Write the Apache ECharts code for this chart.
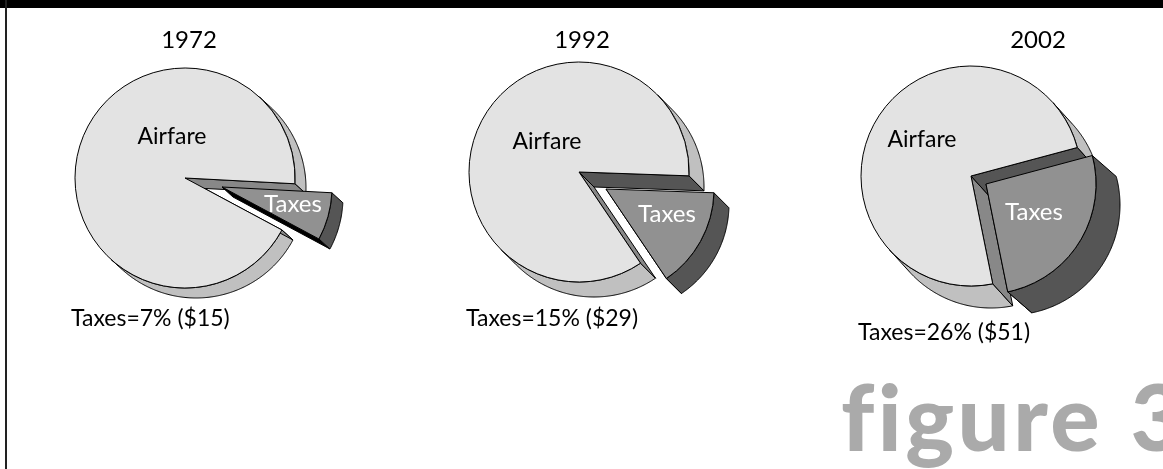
<!DOCTYPE html>
<html><head><meta charset="utf-8">
<style>html,body{margin:0;padding:0;background:#fff}#c{width:1163px;height:469px}</style>
<script src="https://cdn.jsdelivr.net/npm/echarts@6/dist/echarts.min.js"></script>
</head><body><div id="c"></div>
<script>
// ---- data ----
const years = ['1972', '1992', '2002'];
const taxesShare = [7, 15, 26];
const airfareShare = [93, 85, 74];
const taxesDollars = [15, 29, 51];
const sliceLabels = ['Airfare', 'Taxes'];
const figureLabel = 'figure 3';

// ---- layout ----
const FONT = 'Lato, "Open Sans", sans-serif';
const radius = 110;
const sliceRadius = [110, 108, 110];
const mainCenter = [[185, 178], [579, 172], [971, 176]];
const sliceCenter = [[222, 187], [606, 189], [986, 184]];
const mainDepth = [[11, 10], [15, 15], [20, 22]];
const sliceDepth = [[11, 10], [15, 15], [24, 21]];
const startScreenAngle = [3, 2, -15];       // degrees below the +x axis where the Taxes slice starts
const upperWallColor = ['#888888', '#555555', '#555555'];
const yearX = [189, 582, 1038], yearY = 40;
const airfarePos = [[172, 137], [547, 142], [922, 140]];
const taxesPos = [[293, 204], [667, 214], [1034, 212]];
const captionPos = [[71, 319], [466, 319], [858, 333]];

const C = {face: '#e3e3e3', shadow: '#c0c0c0', taxes: '#919191', wall: '#555555', strip: '#888888'};
const rad = d => d * Math.PI / 180;
const pt = (c, a, r, d = [0, 0]) => [c[0] + d[0] + r * Math.cos(rad(a)), c[1] + d[1] + r * Math.sin(rad(a))];
const add = (p, d) => [p[0] + d[0], p[1] + d[1]];

// the large heading is spaced wider and without the fi ligature
const nativeFillText = CanvasRenderingContext2D.prototype.fillText;
CanvasRenderingContext2D.prototype.fillText = function (t, x, y, m) {
  const big = t === figureLabel;
  if (big) { this.letterSpacing = '3.5px'; this.wordSpacing = '2px'; }
  nativeFillText.call(this, t, x, y, m);
  if (big) { this.letterSpacing = '0px'; this.wordSpacing = '0px'; }
};

function poly(points, fill) {
  return {type: 'polygon', shape: {points}, style: {fill, stroke: '#000', lineWidth: 1, lineJoin: 'round'}};
}
// side wall along an arc: only the part that faces the direction of the depth
function arcWalls(c, r, a0, a1, d, fill) {
  const phi = Math.atan2(d[1], d[0]) * 180 / Math.PI;
  const runs = []; let run = null;
  for (let a = a0; a <= a1 + 1e-6; a += Math.min(0.5, Math.max(a1 - a, 0.01))) {
    const facing = Math.cos(rad(a - phi)) > 0;
    if (facing) { (run = run || []).push(a); } else if (run) { runs.push(run); run = null; }
    if (a >= a1) break;
  }
  if (run) runs.push(run);
  return runs.map(q => poly(q.map(a => pt(c, a, r)).concat(q.slice().reverse().map(a => pt(c, a, r, d))), fill));
}
function edgeWall(c, r, a, d, fill) {
  const e = pt(c, a, r);
  return poly([c, e, add(e, d), add(c, d)], fill);
}
function customLayer(children, z) {
  return {type: 'custom', coordinateSystem: 'none', silent: true, z, animation: false, data: [[0]], renderItem: () => ({type: 'group', children})};
}

const series = [];
years.forEach((y, i) => {
  const a0 = startScreenAngle[i], a1 = a0 + taxesShare[i] * 3.6;
  const pieBase = {type: 'pie', startAngle: -a0, clockwise: true, silent: true, animation: false,
    label: {show: false}, labelLine: {show: false}, itemStyle: {borderColor: '#000', borderWidth: 1}};
  // main pie: depth, hole walls, face
  series.push(customLayer(
    arcWalls(mainCenter[i], radius, a1, a0 + 360, mainDepth[i], C.shadow).concat([
      edgeWall(mainCenter[i], radius, a1, mainDepth[i], C.strip),
      edgeWall(mainCenter[i], radius, a0, mainDepth[i], upperWallColor[i])
    ]), 1));
  series.push(Object.assign({}, pieBase, {name: y + ' Airfare', radius, center: mainCenter[i], z: 2, data: [
    {name: 'Taxes', value: taxesShare[i], itemStyle: {color: 'rgba(0,0,0,0)', borderWidth: 0}},
    {name: 'Airfare', value: airfareShare[i], itemStyle: {color: C.face}}
  ]}));
  // exploded slice: walls, face
  series.push(customLayer([
    edgeWall(sliceCenter[i], sliceRadius[i], a1, sliceDepth[i], '#000'),
    ...arcWalls(sliceCenter[i], sliceRadius[i], a0, a1, sliceDepth[i], C.wall)
  ], 3));
  series.push(Object.assign({}, pieBase, {name: y + ' Taxes', radius: sliceRadius[i], center: sliceCenter[i], z: 4, data: [
    {name: 'Taxes', value: taxesShare[i], itemStyle: {color: C.taxes}},
    {name: 'Airfare', value: airfareShare[i], itemStyle: {color: 'rgba(0,0,0,0)', borderWidth: 0}}
  ]}));
});

function text(str, x, y, size, fill, align = 'center', weight = 'normal') {
  return {type: 'text', x, y, z: 20, silent: true, style: {text: str, fill, fontFamily: FONT, fontSize: size, fontWeight: weight, textAlign: align, textVerticalAlign: 'middle'}};
}
const graphics = [
  {type: 'rect', z: 30, silent: true, shape: {x: 0, y: 0, width: 1163, height: 8}, style: {fill: '#000'}},
  {type: 'rect', z: 30, silent: true, shape: {x: 5, y: 0, width: 2, height: 469}, style: {fill: '#222'}},
  text(figureLabel, 841, 421, 92, '#aaaaaa', 'left', 900)
];
years.forEach((y, i) => {
  graphics.push(text(y, yearX[i], yearY, 24, '#000'));
  graphics.push(text(sliceLabels[0], airfarePos[i][0], airfarePos[i][1], 23, '#000'));
  graphics.push(text(sliceLabels[1], taxesPos[i][0], taxesPos[i][1], 24, '#fff'));
  graphics.push(text('Taxes=' + taxesShare[i] + '% ($' + taxesDollars[i] + ')', captionPos[i][0], captionPos[i][1], 23, '#000', 'left'));
});

const chart = echarts.init(document.getElementById('c'), null, {renderer: 'canvas', width: 1163, height: 469});
chart.setOption({backgroundColor: '#fff', animation: false, series, graphic: {elements: graphics}});
</script></body></html>
